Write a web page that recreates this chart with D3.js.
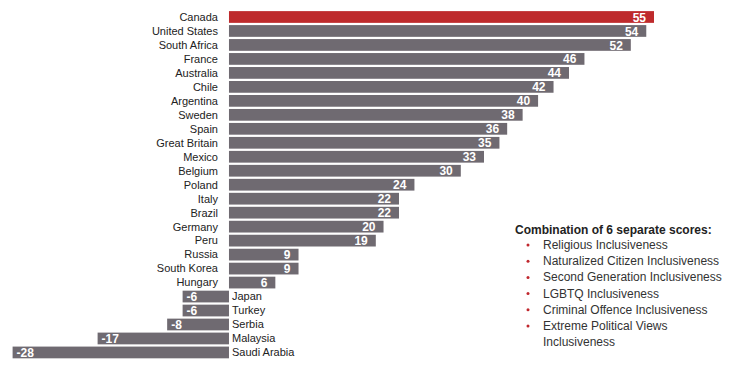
<!DOCTYPE html>
<html><head><meta charset="utf-8">
<script src="https://cdn.jsdelivr.net/npm/d3@7"></script>
<style>body{margin:0;background:#fff;}svg{display:block;font-family:"Liberation Sans",Arial,sans-serif;}</style>
</head><body><svg id="c" width="748" height="373"></svg>
<script>
const countries = ["Canada","United States","South Africa","France","Australia","Chile","Argentina","Sweden","Spain","Great Britain","Mexico","Belgium","Poland","Italy","Brazil","Germany","Peru","Russia","South Korea","Hungary","Japan","Turkey","Serbia","Malaysia","Saudi Arabia"];
const scores = [55,54,52,46,44,42,40,38,36,35,33,30,24,22,22,20,19,9,9,6,-6,-6,-8,-17,-28];
const legendTitle = "Combination of 6 separate scores:";
const legendItems = ["Religious Inclusiveness","Naturalized Citizen Inclusiveness","Second Generation Inclusiveness","LGBTQ Inclusiveness","Criminal Offence Inclusiveness",["Extreme Political Views","Inclusiveness"]];

const svg = d3.select("#c");
const x = d3.scaleLinear().domain([-28,55]).range([12.6,654]);
const y = d3.scaleBand().domain(countries).range([10,10+25*13.44+13.44]).paddingInner(0.16).paddingOuter(0.08);
const data = countries.map((c,i)=>({c,v:scores[i]}));

svg.selectAll("rect.bar").data(data).join("rect")
  .attr("class","bar")
  .attr("x",d=>x(Math.min(0,d.v)))
  .attr("width",d=>Math.abs(x(d.v)-x(0)))
  .attr("y",d=>y(d.c))
  .attr("height",y.bandwidth())
  .attr("fill",d=>d.c==="Canada"?"#be2a2c":"#6f6a71");

svg.selectAll("text.name").data(data).join("text")
  .attr("class","name")
  .attr("x",d=>d.v>=0?x(0)-11:x(0)+3)
  .attr("y",d=>y(d.c)+y.bandwidth()/2)
  .attr("dy","0.35em")
  .attr("text-anchor",d=>d.v>=0?"end":"start")
  .attr("font-size",11)
  .attr("fill","#222")
  .text(d=>d.c);

svg.selectAll("text.val").data(data).join("text")
  .attr("class","val")
  .attr("x",d=>d.v>=0?x(d.v)-8:x(d.v)+4)
  .attr("y",d=>y(d.c)+y.bandwidth()/2)
  .attr("dy","0.38em")
  .attr("text-anchor",d=>d.v>=0?"end":"start")
  .attr("font-size",12)
  .attr("font-weight","bold")
  .attr("fill","#fff")
  .text(d=>d.v);

const lg = svg.append("g");
lg.append("text").attr("x",515).attr("y",234).attr("font-size",12).attr("font-weight","bold").attr("fill","#222").text(legendTitle);
let ly = 249;
legendItems.forEach(it=>{
  const lines = Array.isArray(it)?it:[it];
  lg.append("circle").attr("cx",528).attr("cy",ly-4).attr("r",1.5).attr("fill","#c0272d");
  lines.forEach(l=>{
    lg.append("text").attr("x",543).attr("y",ly).attr("font-size",12).attr("fill","#333").text(l);
    ly += 16.2;
  });
});
</script></body></html>
